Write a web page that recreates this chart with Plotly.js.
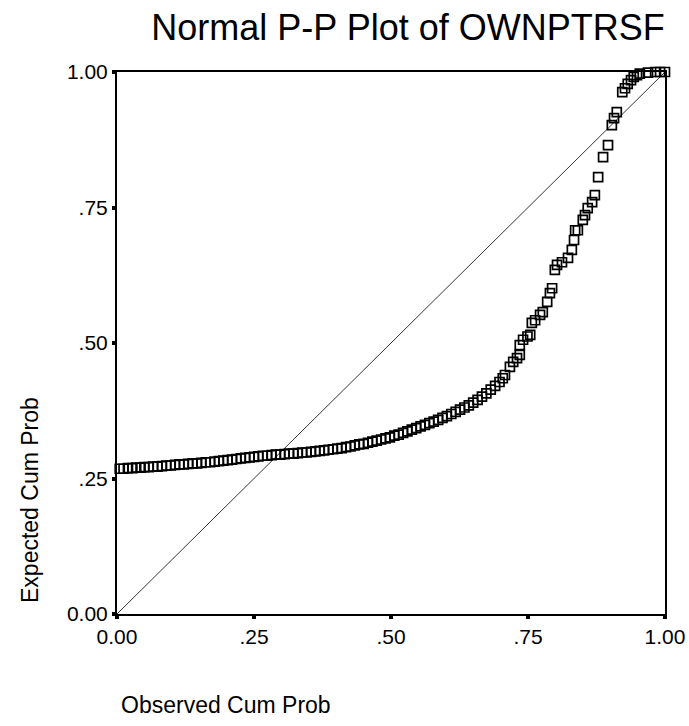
<!DOCTYPE html>
<html>
<head>
<meta charset="utf-8">
<script src="https://cdn.plot.ly/plotly-3.0.1.min.js"></script>
<style>html,body{margin:0;padding:0;background:#fff;}#chart{width:689px;height:726px;}</style>
</head>
<body>
<div id="chart"></div>
<script>
// Observed cumulative probability (x) and expected cumulative probability (y)
const observedCumProb = [
  0.005,0.012,0.020,0.028,0.035,0.043,0.050,0.058,0.066,0.074,
  0.082,0.090,0.098,0.106,0.114,0.122,0.130,0.138,0.146,0.154,
  0.162,0.170,0.178,0.186,0.194,0.202,0.210,0.218,0.226,0.234,
  0.242,0.250,0.258,0.266,0.274,0.282,0.290,0.298,0.306,0.314,
  0.322,0.330,0.338,0.346,0.354,0.362,0.370,0.378,0.386,0.394,
  0.402,0.410,0.418,0.426,0.434,0.442,0.450,0.458,0.466,0.474,
  0.482,0.490,0.498,0.506,0.514,0.522,0.530,0.538,0.546,0.554,
  0.562,0.570,0.578,0.586,0.594,0.602,0.610,0.618,0.626,0.634,
  0.642,0.650,0.658,0.666,0.674,0.682,0.690,0.698,0.704,
  0.708,0.717,0.723,0.730,0.735,0.735,0.741,0.749,0.754,0.757,
  0.763,0.772,0.777,0.785,0.790,0.794,0.799,0.803,0.812,0.823,
  0.830,0.834,0.836,0.841,0.850,0.854,0.859,0.867,0.872,0.878,
  0.887,0.896,0.903,0.907,0.912,0.922,0.927,0.932,0.938,0.943,
  0.949,0.954,0.969,0.982,0.991,1.000
];
const expectedCumProb = [
  0.268,0.268,0.269,0.269,0.270,0.270,0.271,0.271,0.272,0.272,
  0.273,0.274,0.274,0.275,0.276,0.276,0.277,0.278,0.278,0.279,
  0.280,0.280,0.281,0.282,0.283,0.284,0.285,0.286,0.287,0.288,
  0.289,0.290,0.291,0.292,0.292,0.293,0.294,0.294,0.295,0.296,
  0.296,0.297,0.298,0.298,0.299,0.300,0.301,0.302,0.303,0.304,
  0.305,0.306,0.308,0.309,0.311,0.313,0.314,0.316,0.318,0.320,
  0.322,0.324,0.326,0.329,0.331,0.334,0.337,0.340,0.343,0.346,
  0.349,0.352,0.355,0.358,0.362,0.365,0.369,0.373,0.377,0.381,
  0.385,0.390,0.395,0.401,0.407,0.414,0.421,0.428,0.435,
  0.441,0.456,0.465,0.472,0.478,0.496,0.506,0.512,0.515,0.537,
  0.542,0.552,0.557,0.576,0.592,0.601,0.635,0.644,0.649,0.657,
  0.672,0.690,0.708,0.708,0.727,0.736,0.749,0.760,0.773,0.806,
  0.843,0.865,0.902,0.915,0.926,0.963,0.970,0.978,0.985,0.991,
  0.994,0.997,0.999,1.000,1.000,1.000
];
const refLineX = [0, 1];
const refLineY = [0, 1];
const tickVals = [0, 0.25, 0.5, 0.75, 1];
const tickText = ["0.00", ".25", ".50", ".75", "1.00"];

const FONT = "'Liberation Sans', Arial, Helvetica, sans-serif";

const traces = [
  {
    x: refLineX, y: refLineY, mode: "lines", type: "scatter",
    line: {color: "#000", width: 0.8}, hoverinfo: "skip", showlegend: false
  },
  {
    x: observedCumProb, y: expectedCumProb, mode: "markers", type: "scatter",
    marker: {symbol: "square-open", size: 9, color: "#000", line: {width: 1.7, color: "#000"}},
    cliponaxis: false, showlegend: false
  }
];

const axisCommon = {
  range: [0, 1], tickvals: tickVals, ticktext: tickText,
  showgrid: false, zeroline: false, showline: true, mirror: true,
  linecolor: "#000", linewidth: 2, ticks: "outside", ticklen: 3, tickwidth: 4,
  tickcolor: "#000", tickfont: {family: FONT, size: 21, color: "#000"}
};

const layout = {
  width: 689, height: 726,
  margin: {l: 117, r: 24, t: 72, b: 112},
  paper_bgcolor: "#fff", plot_bgcolor: "#fff",
  font: {family: FONT, color: "#000"},
  title: {
    text: "Normal P-P Plot of OWNPTRSF",
    font: {family: FONT, size: 36, color: "#000"},
    x: 408 / 689, xanchor: "center", y: 1 - 27 / 726, yanchor: "middle"
  },
  xaxis: Object.assign({}, axisCommon),
  yaxis: Object.assign({}, axisCommon),
  annotations: [
    {
      text: "Expected Cum Prob", xref: "paper", yref: "paper",
      x: (30 - 117) / 548, y: (614 - 500) / 542, xanchor: "center", yanchor: "middle",
      textangle: -90, showarrow: false, font: {family: FONT, size: 23, color: "#000"}
    },
    {
      text: "Observed Cum Prob", xref: "paper", yref: "paper",
      x: (226 - 117) / 548, y: -(705 - 614) / 542, xanchor: "center", yanchor: "middle",
      showarrow: false, font: {family: FONT, size: 23, color: "#000"}
    }
  ]
};

Plotly.newPlot("chart", traces, layout, {displayModeBar: false, staticPlot: true});
</script>
</body>
</html>
